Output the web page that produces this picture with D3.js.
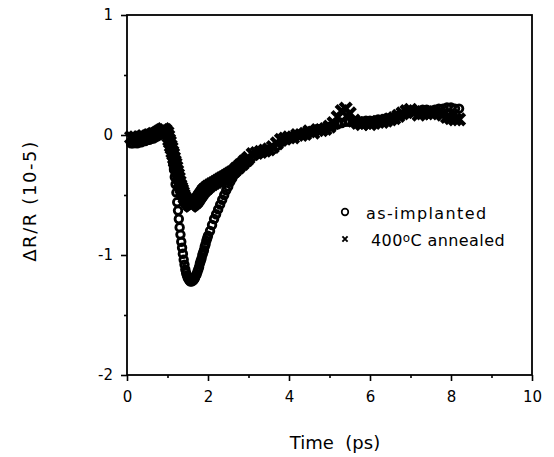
<!DOCTYPE html>
<html><head><meta charset="utf-8">
<script src="https://cdn.jsdelivr.net/npm/d3@7"></script>
<style>body{margin:0;background:#fff}svg{display:block}</style>
</head><body>
<svg id="c" width="554" height="457"></svg>
<script>
// sampling times (ps)
const times = [
 0.10,0.15,0.20,0.25,0.30,0.35,0.40,0.45,0.50,0.55,0.60,0.65,0.70,0.75,0.80,0.85,0.90,0.95,1.00,
 1.02,1.04,1.06,1.08,1.10,1.12,1.14,1.16,1.18,1.20,1.22,1.24,1.26,1.28,1.30,1.32,1.34,1.36,1.38,1.40,
 1.42,1.44,1.46,1.48,1.50,1.52,1.54,1.56,1.58,1.60,1.62,1.64,1.66,1.68,1.70,1.72,1.74,1.76,1.78,1.80,
 1.82,1.84,1.86,1.88,1.90,1.92,1.94,1.96,1.98,2.00,
 2.05,2.10,2.15,2.20,2.25,2.30,2.35,2.40,2.45,2.50,2.55,2.60,2.65,2.70,2.75,2.80,2.85,2.90,2.95,3.00,
 3.1,3.2,3.3,3.4,3.5,3.6,3.7,3.8,3.9,4.0,
 4.1,4.2,4.3,4.4,4.5,4.6,4.7,4.8,4.9,5.0,5.1,5.2,5.3,5.4,5.5,5.6,5.7,5.8,5.9,6.0,
 6.1,6.2,6.3,6.4,6.5,6.6,6.7,6.8,6.9,7.0,7.1,7.2,7.3,7.4,7.5,7.6,7.7,7.8,7.9,8.0,8.1,8.2];

// as-implanted dR/R (1e-5)
const asImplanted = [
 -0.07,-0.07,-0.06,-0.07,-0.06,-0.06,-0.05,-0.05,-0.04,-0.04,-0.03,-0.03,-0.02,-0.01,0.00,0.01,0.03,0.04,0.03,
 0.01,-0.03,-0.06,-0.10,-0.14,-0.19,-0.24,-0.29,-0.35,-0.41,-0.48,-0.56,-0.63,-0.70,-0.77,-0.83,-0.89,-0.94,-0.99,-1.04,
 -1.08,-1.12,-1.15,-1.17,-1.19,-1.20,-1.21,-1.22,-1.22,-1.22,-1.21,-1.21,-1.20,-1.19,-1.17,-1.16,-1.14,-1.12,-1.10,-1.07,
 -1.05,-1.03,-1.00,-0.98,-0.96,-0.93,-0.91,-0.88,-0.86,-0.84,
 -0.80,-0.75,-0.70,-0.66,-0.62,-0.58,-0.54,-0.50,-0.46,-0.43,-0.39,-0.36,-0.33,-0.31,-0.29,-0.27,-0.25,-0.24,-0.22,-0.21,
 -0.18,-0.16,-0.15,-0.14,-0.13,-0.12,-0.09,-0.06,-0.04,-0.03,
 -0.01,0.00,0.01,0.02,0.03,0.04,0.05,0.05,0.06,0.07,0.08,0.09,0.10,0.11,0.11,0.11,0.11,0.11,0.12,0.12,
 0.12,0.13,0.13,0.14,0.14,0.15,0.16,0.17,0.18,0.19,0.20,0.20,0.21,0.21,0.20,0.21,0.22,0.22,0.23,0.23,0.22,0.22];

// 400 C annealed dR/R (1e-5)
const annealed = [
 -0.02,-0.03,-0.02,-0.03,-0.02,-0.02,-0.01,-0.02,-0.01,0.00,0.00,0.01,0.01,0.02,0.03,0.04,0.05,0.04,0.02,
 -0.01,-0.04,-0.06,-0.09,-0.11,-0.14,-0.16,-0.19,-0.22,-0.24,-0.27,-0.30,-0.33,-0.36,-0.39,-0.42,-0.44,-0.46,-0.48,-0.50,
 -0.52,-0.53,-0.54,-0.55,-0.56,-0.57,-0.58,-0.58,-0.59,-0.58,-0.58,-0.57,-0.57,-0.56,-0.56,-0.55,-0.54,-0.53,-0.52,-0.51,
 -0.50,-0.49,-0.48,-0.47,-0.46,-0.46,-0.45,-0.44,-0.44,-0.43,
 -0.42,-0.41,-0.40,-0.39,-0.38,-0.37,-0.36,-0.35,-0.34,-0.33,-0.32,-0.31,-0.30,-0.28,-0.27,-0.25,-0.24,-0.22,-0.21,-0.19,
 -0.16,-0.15,-0.14,-0.13,-0.12,-0.10,-0.07,-0.04,-0.03,-0.02,
 -0.02,0.00,0.00,0.01,0.03,0.02,0.04,0.04,0.05,0.07,0.10,0.15,0.20,0.22,0.18,0.12,0.10,0.09,0.10,0.09,
 0.10,0.11,0.11,0.12,0.13,0.14,0.16,0.18,0.20,0.21,0.19,0.17,0.18,0.19,0.18,0.18,0.19,0.17,0.15,0.14,0.13,0.13];

const xMajor = [0,2,4,6,8,10];
const xMinor = [1,3,5,7,9];
const yMajor = [1,0,-1,-2];
const yMinor = [0.5,-0.5,-1.5];
const seriesNames = ["as-implanted","400ºC annealed"];
const xTitle = "Time  (ps)";
const yTitle = "ΔR/R (10-5)";

const svg = d3.select("#c");
const FONT = "'DejaVu Sans', Verdana, sans-serif";
const x = d3.scaleLinear().domain([0,10]).range([127,532]);
const y = d3.scaleLinear().domain([-2,1]).range([375,15]);

function styleAxis(g){
  g.select(".domain").remove();
  g.selectAll(".tick line").attr("stroke","#000").attr("stroke-width",1.6);
  g.selectAll(".tick text").attr("fill","#000").style("font-family",FONT).style("font-size","15px");
}
svg.append("g").attr("transform","translate(0,375)")
  .call(d3.axisBottom(x).tickValues(xMajor).tickSize(6).tickPadding(10).tickFormat(d=>String(d))).call(styleAxis);
svg.append("g").attr("transform","translate(0,375)")
  .call(d3.axisBottom(x).tickValues(xMinor).tickSize(3).tickFormat("")).call(styleAxis);
svg.append("g").attr("transform","translate(127,0)")
  .call(d3.axisLeft(y).tickValues(yMajor).tickSize(6).tickPadding(8).tickFormat(d=>String(d))).call(styleAxis);
svg.append("g").attr("transform","translate(127,0)")
  .call(d3.axisLeft(y).tickValues(yMinor).tickSize(3).tickFormat("")).call(styleAxis);

// frame
svg.append("rect").attr("x",x(0)).attr("y",y(1)).attr("width",x(10)-x(0)).attr("height",y(-2)-y(1))
  .attr("fill","none").attr("stroke","#000").attr("stroke-width",1.8);

const xs = 5.6;
const xPath = `M${-xs},${-xs}L${xs},${xs}M${-xs},${xs}L${xs},${-xs}`;
svg.append("g").selectAll("path").data(times.map((t,i)=>[t,annealed[i]])).join("path")
  .attr("transform",d=>`translate(${x(d[0])},${y(d[1])})`)
  .attr("d",xPath).attr("stroke","#000").attr("stroke-width",4.2).attr("fill","none");
svg.append("g").selectAll("circle").data(times.map((t,i)=>[t,asImplanted[i]])).join("circle")
  .attr("cx",d=>x(d[0])).attr("cy",d=>y(d[1])).attr("r",3.8)
  .attr("fill","none").attr("stroke","#000").attr("stroke-width",2.8);

// legend
const lg = svg.append("g");
lg.append("circle").attr("cx",345).attr("cy",212).attr("r",3.3).attr("fill","none").attr("stroke","#000").attr("stroke-width",1.7);
const s=2.6;
lg.append("path").attr("transform","translate(345,239)").attr("d",`M${-s},${-s}L${s},${s}M${-s},${s}L${s},${-s}`)
  .attr("stroke","#000").attr("stroke-width",1.9);
lg.append("text").attr("x",366).attr("y",219).text(seriesNames[0])
  .style("font-family",FONT).style("font-size","16px").style("letter-spacing","1.4px");
const t2 = lg.append("text").attr("x",371).attr("y",246)
  .style("font-family",FONT).style("font-size","16px").style("letter-spacing","0.4px");
t2.append("tspan").text("400");
t2.append("tspan").attr("dy",-4).style("font-size","12px").text("o");
t2.append("tspan").attr("dy",4).text("C annealed");

svg.append("text").attr("x",335).attr("y",449).attr("text-anchor","middle").text(xTitle)
  .style("font-family",FONT).style("font-size","18px").attr("xml:space","preserve");
svg.append("text").attr("transform","translate(36,201) rotate(-90)").attr("text-anchor","middle").text(yTitle)
  .style("font-family",FONT).style("font-size","18px").style("letter-spacing","1.6px");
</script>
</body></html>
